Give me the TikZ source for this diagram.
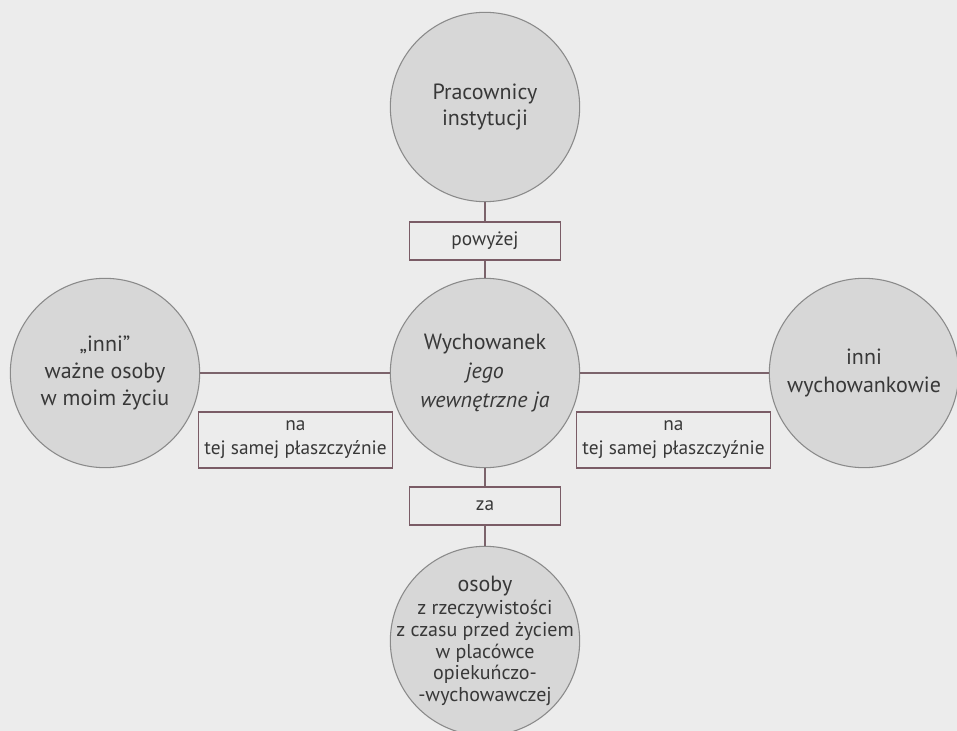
\documentclass[tikz,border=0pt]{standalone}
\usepackage{fontspec}
\setmainfont{PT Sans}
\definecolor{papier}{HTML}{ECECEC}
\definecolor{kolo}{HTML}{D7D7D7}
\definecolor{obrys}{HTML}{8A8A8A}
\definecolor{ramka}{HTML}{7A5C66}
\tikzset{
  osoba/.style={circle, draw=obrys, fill=kolo, line width=0.8pt,
    minimum size=142pt, inner sep=-20pt, align=center, text=black!78,
    font=\fontsize{16.5}{20.5}\selectfont},
  relacja/.style={rectangle, draw=ramka, fill=papier, line width=0.9pt,
    inner sep=2pt, align=center, text=black!78,
    font=\fontsize{14.5}{18}\selectfont},
  polaczenie/.style={draw=ramka!80!gray, line width=0.8pt}
}
\begin{document}
\begin{tikzpicture}[x=0.75pt,y=-0.75pt]
\fill[papier] (0,0) rectangle (957,731);
\useasboundingbox (0,0) rectangle (957,731);
% kola
\node[osoba, font=\fontsize{16.5}{19}\selectfont] (prac) at (485,107) {Pracownicy\\instytucji};
\node[osoba, font=\fontsize{16.5}{22}\selectfont] (wych) at (485,373) {Wychowanek\\\textit{jego}\\\textit{wewnętrzne ja}};
\node[osoba] (inni) at (105,373) {„inni”\\ważne osoby\\w moim życiu};
\node[osoba, font=\fontsize{16.5}{21}\selectfont] (kol) at (864,373) {inni\\wychowankowie};
\node[osoba, font=\fontsize{15}{16.2}\selectfont] (dawne) at (485,641) {{\fontsize{16.5}{19}\selectfont osoby}\\[1pt]
  z rzeczywistości\\z czasu przed życiem\\w placówce\\opiekuńczo-\\-wychowawczej};
% ramki
\node[relacja, minimum width=113pt, minimum height=28.5pt] (powyzej) at (485,241) {powyżej};
\node[relacja, minimum width=145pt, minimum height=42pt] (na1) at (295.5,440) {na\\tej samej płaszczyźnie};
\node[relacja, minimum width=145pt, minimum height=42pt] (na2) at (673.5,440) {na\\tej samej płaszczyźnie};
\node[relacja, minimum width=113pt, minimum height=28.5pt] (za) at (485,506) {za};
% polaczenia
\draw[polaczenie] (prac) -- (powyzej);
\draw[polaczenie] (powyzej) -- (wych);
\draw[polaczenie] (wych) -- (za);
\draw[polaczenie] (za) -- (dawne);
\draw[polaczenie] (inni) -- (wych);
\draw[polaczenie] (wych) -- (kol);
\end{tikzpicture}
\end{document}
